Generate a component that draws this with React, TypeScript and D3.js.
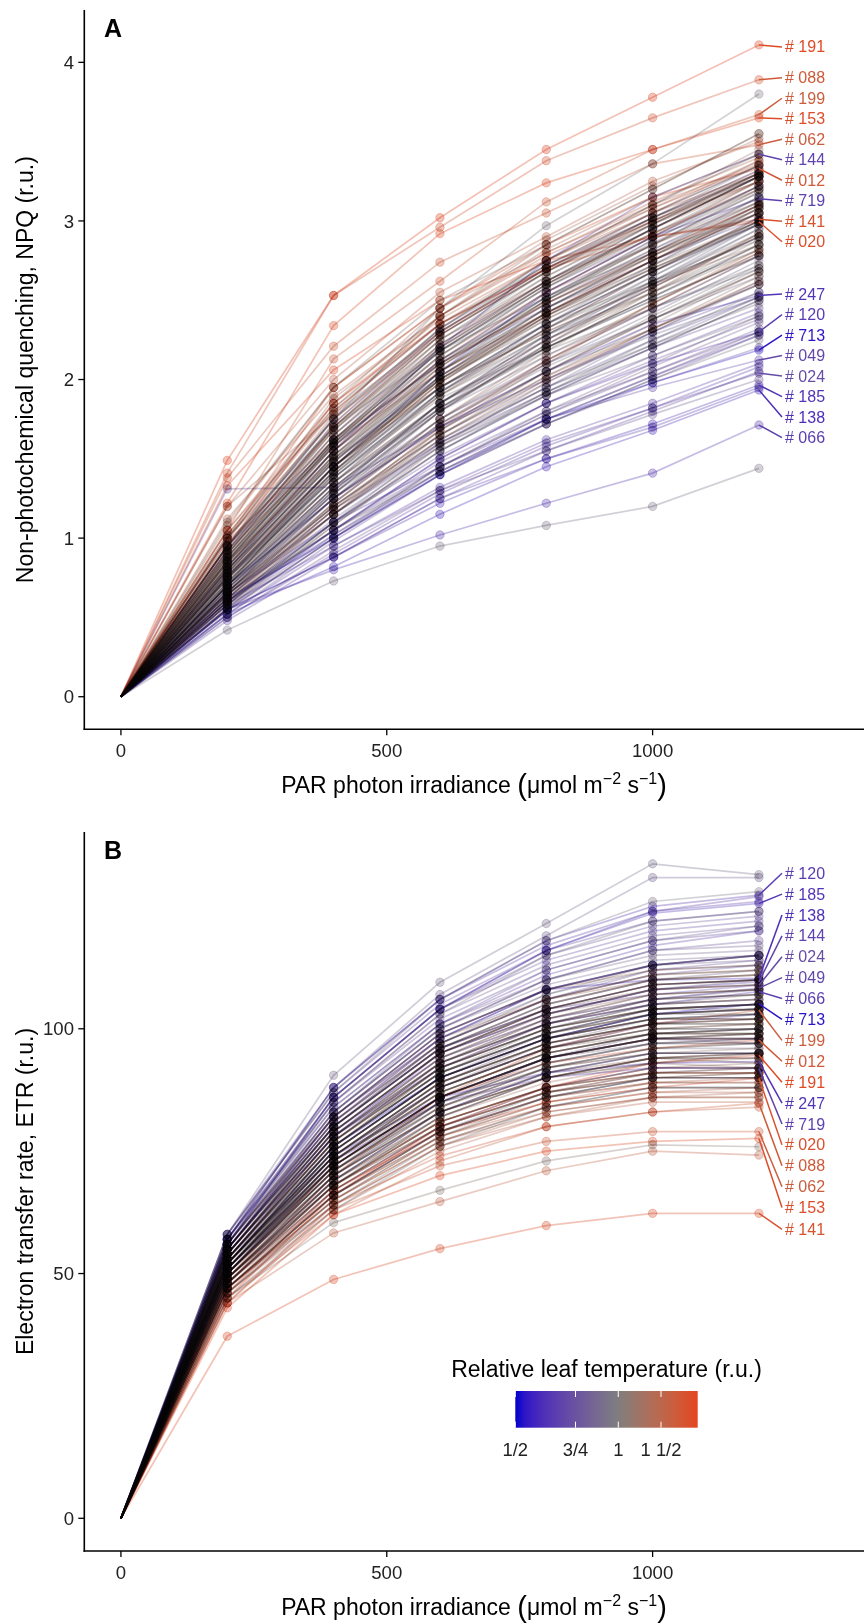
import React from 'react';
import * as d3 from 'd3';

// ---------------- DATA ----------------
const PAR = [0, 200, 400, 600, 800, 1000, 1200];

// labelled plants (extreme relative leaf temperature)
const labelIds = ['191', '088', '199', '153', '062', '012', '141', '020', '144', '719', '247', '120', '713', '049', '024', '185', '138', '066'];
const labelTemp = [1.65, 1.5, 1.45, 1.62, 1.45, 1.5, 1.58, 1.6, 0.68, 0.67, 0.62, 0.65, 0.53, 0.7, 0.72, 0.62, 0.6, 0.66];
const labelNPQ = [
  [0, 1.49, 2.53, 3.02, 3.45, 3.78, 4.11],
  [0, 1.41, 2.53, 2.96, 3.38, 3.65, 3.89],
  [0, 1.05, 2.13, 2.62, 3.12, 3.45, 3.67],
  [0, 1.22, 2.34, 2.92, 3.24, 3.45, 3.65],
  [0, 1.38, 2.21, 2.74, 3.05, 3.36, 3.48],
  [0, 1.0, 1.95, 2.45, 2.85, 3.15, 3.33],
  [0, 1.33, 2.06, 2.5, 2.75, 2.9, 3.01],
  [0, 0.95, 1.85, 2.35, 2.7, 2.9, 2.995],
  [0, 0.8, 1.55, 2.2, 2.75, 3.15, 3.42],
  [0, 0.75, 1.45, 2.05, 2.55, 2.9, 3.14],
  [0, 0.7, 1.25, 1.7, 2.05, 2.35, 2.53],
  [0, 0.6, 1.05, 1.5, 1.85, 2.1, 2.3],
  [0, 0.62, 1.0, 1.4, 1.75, 1.98, 2.186],
  [0, 0.65, 1.1, 1.45, 1.75, 1.95, 2.123],
  [0, 0.58, 0.95, 1.3, 1.6, 1.82, 2.04],
  [0, 0.55, 0.88, 1.22, 1.5, 1.72, 1.965],
  [0, 0.52, 0.82, 1.15, 1.45, 1.68, 1.934],
  [0, 0.55, 0.8, 1.02, 1.22, 1.41, 1.713],
];
const labelETR = [
  [0, 45, 66, 80, 88, 93, 94.6],
  [0, 44, 64, 74, 80, 83, 84.8],
  [0, 48, 70, 86, 96, 101, 103.8],
  [0, 43, 62, 70, 75, 77, 77.6],
  [0, 44, 63, 72, 77, 79, 79.0],
  [0, 49, 72, 86, 93, 96, 97.7],
  [0, 37.2, 48.8, 55.1, 59.8, 62.3, 62.3],
  [0, 46, 67, 79, 85, 88, 89.9],
  [0, 53, 78, 95, 103, 108, 109.6],
  [0, 50, 73, 85, 90, 92, 91.9],
  [0, 51, 74, 86, 91, 93, 93.3],
  [0, 57, 88, 106, 118, 125, 127.3],
  [0, 52, 76, 90, 98, 103, 105.1],
  [0, 54, 79, 94, 102, 106, 108.3],
  [0, 55, 80, 96, 104, 107, 108.9],
  [0, 56, 86, 104, 116, 123.6, 125.6],
  [0, 55, 82, 98, 108, 110, 110.3],
  [0, 54, 78, 92, 101, 105, 107.6],
];

// unlabelled plants
const bgTemp = [
  0.95, 1.05, 0.88, 1.12, 0.8, 1.0, 1.2, 0.92, 0.75, 1.08,
  1.3, 0.98, 0.85, 1.15, 1.02, 0.7, 1.25, 0.9, 1.1, 0.78,
  0.93, 0.97, 0.9, 0.86, 1.05, 1.35, 0.74, 1.28, 1.22, 1.18,
  0.82, 0.68, 0.95, 1.03, 1.12, 0.88, 1.0, 0.76, 1.4, 1.15,
  0.92, 1.07, 0.84, 1.26, 0.99, 0.72, 1.09, 0.94, 1.02, 0.81,
  1.32, 1.16, 0.89, 1.04, 0.96, 1.11, 0.79, 1.24, 0.91, 1.01,
  0.87, 1.19, 0.73, 1.06, 0.97, 1.13, 0.83, 1.27, 0.95, 1.0,
  0.77, 1.21, 0.93, 1.08, 0.86, 1.14, 0.69, 1.03, 0.9, 1.17,
  0.98, 1.1, 0.8, 1.23, 0.94, 1.05, 0.88, 1.31, 0.99, 1.12,
  0.75, 1.0, 0.92, 1.19, 0.84, 1.07,
  0.91, 1.02, 0.86, 1.14, 0.97, 1.2, 0.83, 1.08, 0.94, 1.25,
  0.89, 1.04, 0.78, 1.16, 1.1, 1.01, 1.28, 0.95, 1.05, 0.87,
  1.13, 0.92, 1.0, 0.81, 0.96, 1.18, 0.9, 1.07, 0.85, 1.22,
  0.93, 1.03, 0.88, 1.11, 0.99, 1.3, 0.84, 1.09, 0.97, 1.17,
  0.91, 1.06, 0.8, 1.15, 1.24, 1.02, 1.12, 0.94, 1.0, 0.88,
];
const bgNPQ = [
  [0, 0.62, 1.18, 1.62, 1.95, 2.22, 2.48], [0, 0.78, 1.45, 1.95, 2.3, 2.6, 2.9],
  [0, 0.7, 1.3, 1.8, 2.15, 2.45, 2.7], [0, 0.85, 1.6, 2.1, 2.48, 2.78, 3.05],
  [0, 0.58, 1.05, 1.48, 1.8, 2.05, 2.3], [0, 0.74, 1.38, 1.88, 2.2, 2.5, 2.78],
  [0, 0.92, 1.7, 2.25, 2.62, 2.92, 3.2], [0, 0.66, 1.25, 1.7, 2.05, 2.32, 2.6],
  [0, 0.55, 1.0, 1.4, 1.72, 1.98, 2.2], [0, 0.8, 1.52, 2.02, 2.4, 2.7, 2.98],
  [0, 1.02, 1.85, 2.38, 2.75, 3.05, 3.3], [0, 0.72, 1.35, 1.82, 2.18, 2.45, 2.72],
  [0, 0.64, 1.2, 1.65, 2.0, 2.28, 2.52], [0, 0.88, 1.62, 2.15, 2.55, 2.85, 3.12],
  [0, 0.76, 1.42, 1.92, 2.28, 2.55, 2.85], [0, 0.52, 0.95, 1.32, 1.62, 1.85, 2.1],
  [0, 0.95, 1.75, 2.28, 2.68, 2.98, 3.25], [0, 0.68, 1.28, 1.75, 2.1, 2.38, 2.65],
  [0, 0.82, 1.55, 2.05, 2.42, 2.72, 3.0], [0, 0.6, 1.1, 1.52, 1.85, 2.12, 2.38],
  [0, 0.42, 0.73, 0.95, 1.08, 1.2, 1.44], [0, 0.95, 1.75, 2.45, 2.97, 3.36, 3.8],
  [0, 0.6, 1.1, 1.6, 1.95, 2.3, 2.6], [0, 0.55, 1.0, 1.45, 1.8, 2.1, 2.4],
  [0, 1.1, 1.95, 2.5, 2.85, 3.2, 3.55], [0, 1.2, 2.0, 2.55, 2.9, 3.25, 3.5],
  [0, 1.31, 1.32, 1.7, 2.0, 2.3, 2.55], [0, 1.08, 1.95, 2.45, 2.8, 3.1, 3.36],
  [0, 1.2, 1.78, 2.3, 2.7, 3.0, 3.25], [0, 0.98, 1.88, 2.4, 2.82, 3.15, 3.42],
  [0, 0.5, 0.92, 1.3, 1.55, 1.78, 2.0], [0, 0.55, 0.88, 1.25, 1.5, 1.7, 1.95],
  [0, 0.62, 1.05, 1.42, 1.72, 2.0, 2.25], [0, 0.88, 1.62, 2.2, 2.62, 2.98, 3.3],
  [0, 0.95, 1.7, 2.3, 2.72, 3.05, 3.35], [0, 0.8, 1.48, 2.02, 2.42, 2.75, 3.05],
  [0, 0.7, 1.45, 2.05, 2.5, 2.88, 3.2], [0, 0.58, 1.1, 1.55, 1.9, 2.2, 2.45],
  [0, 1.05, 1.8, 2.35, 2.7, 3.0, 3.28], [0, 0.85, 1.5, 1.95, 2.3, 2.6, 2.85],
  [0, 0.65, 1.15, 1.58, 1.9, 2.15, 2.4], [0, 0.75, 1.4, 1.9, 2.25, 2.55, 2.82],
  [0, 0.62, 1.18, 1.6, 1.92, 2.2, 2.5], [0, 0.98, 1.62, 2.1, 2.48, 2.8, 3.1],
  [0, 0.68, 1.28, 1.8, 2.2, 2.52, 2.85], [0, 0.48, 0.88, 1.25, 1.55, 1.8, 2.05],
  [0, 0.9, 1.68, 2.28, 2.68, 3.02, 3.32], [0, 0.72, 1.4, 1.95, 2.35, 2.68, 2.98],
  [0, 0.85, 1.55, 2.1, 2.52, 2.85, 3.15], [0, 0.6, 1.05, 1.45, 1.78, 2.05, 2.32],
  [0, 1.12, 1.9, 2.4, 2.78, 3.08, 3.35], [0, 0.78, 1.45, 1.98, 2.38, 2.7, 3.0],
  [0, 0.66, 1.22, 1.72, 2.1, 2.42, 2.75], [0, 0.82, 1.58, 2.15, 2.58, 2.95, 3.28],
  [0, 0.58, 1.1, 1.55, 1.9, 2.2, 2.5], [0, 0.92, 1.72, 2.32, 2.75, 3.1, 3.45],
  [0, 0.52, 0.98, 1.4, 1.72, 2.0, 2.28], [0, 1.0, 1.8, 2.35, 2.75, 3.08, 3.38],
  [0, 0.75, 1.35, 1.85, 2.2, 2.5, 2.78], [0, 0.78, 1.5, 2.05, 2.45, 2.78, 3.08],
  [0, 0.64, 1.15, 1.62, 1.98, 2.3, 2.62], [0, 0.88, 1.65, 2.2, 2.6, 2.92, 3.22],
  [0, 0.6, 1.02, 1.42, 1.75, 2.02, 2.28], [0, 0.7, 1.35, 1.85, 2.22, 2.55, 2.88],
  [0, 0.85, 1.6, 2.18, 2.6, 2.95, 3.28], [0, 0.95, 1.78, 2.4, 2.85, 3.2, 3.55],
  [0, 0.56, 1.02, 1.45, 1.78, 2.08, 2.36], [0, 0.92, 1.58, 2.05, 2.42, 2.75, 3.05],
  [0, 0.66, 1.3, 1.85, 2.28, 2.62, 2.95], [0, 0.8, 1.48, 2.0, 2.38, 2.7, 3.0],
  [0, 0.62, 1.15, 1.6, 1.95, 2.25, 2.52], [0, 1.05, 1.85, 2.45, 2.88, 3.22, 3.52],
  [0, 0.7, 1.25, 1.72, 2.08, 2.38, 2.68], [0, 0.76, 1.45, 2.0, 2.42, 2.75, 3.05],
  [0, 0.68, 1.32, 1.85, 2.25, 2.58, 2.9], [0, 0.84, 1.55, 2.08, 2.48, 2.8, 3.1],
  [0, 0.5, 0.9, 1.28, 1.58, 1.82, 2.08], [0, 0.72, 1.4, 1.95, 2.35, 2.68, 3.0],
  [0, 0.77, 1.42, 1.95, 2.35, 2.68, 2.98], [0, 1.0, 1.75, 2.3, 2.7, 3.02, 3.3],
  [0, 0.64, 1.2, 1.68, 2.05, 2.38, 2.7], [0, 0.86, 1.62, 2.22, 2.65, 3.0, 3.3],
  [0, 0.54, 1.0, 1.42, 1.75, 2.02, 2.3], [0, 0.9, 1.7, 2.28, 2.7, 3.05, 3.38],
  [0, 0.74, 1.38, 1.9, 2.28, 2.6, 2.9], [0, 0.82, 1.52, 2.08, 2.5, 2.85, 3.18],
  [0, 0.6, 1.12, 1.58, 1.92, 2.22, 2.52], [0, 1.0, 1.82, 2.4, 2.8, 3.12, 3.4],
  [0, 0.76, 1.45, 2.0, 2.4, 2.72, 3.05], [0, 0.8, 1.48, 2.02, 2.42, 2.75, 3.08],
  [0, 0.56, 1.05, 1.5, 1.85, 2.15, 2.42], [0, 0.9, 1.65, 2.25, 2.68, 3.02, 3.35],
  [0, 0.7, 1.32, 1.82, 2.2, 2.52, 2.85], [0, 0.95, 1.68, 2.22, 2.62, 2.95, 3.25],
  [0, 0.66, 1.25, 1.75, 2.12, 2.45, 2.78], [0, 0.86, 1.6, 2.18, 2.6, 2.95, 3.28],
  [0, 0.7, 1.42, 2.02, 2.45, 2.8, 3.12], [0, 0.82, 1.5, 2.0, 2.35, 2.62, 2.88],
  [0, 0.76, 1.38, 1.92, 2.32, 2.68, 3.02], [0, 0.62, 1.22, 1.75, 2.18, 2.55, 2.92],
  [0, 1.0, 1.7, 2.18, 2.52, 2.8, 3.05], [0, 0.58, 1.15, 1.68, 2.1, 2.48, 2.82],
  [0, 0.95, 1.6, 2.1, 2.45, 2.75, 3.02], [0, 0.66, 1.2, 1.65, 2.02, 2.35, 2.68],
  [0, 0.88, 1.62, 2.2, 2.62, 2.98, 3.3], [0, 0.74, 1.42, 1.98, 2.4, 2.75, 3.08],
  [0, 0.68, 1.3, 1.85, 2.28, 2.65, 3.0], [0, 0.8, 1.45, 1.95, 2.32, 2.62, 2.92],
  [0, 0.92, 1.72, 2.3, 2.7, 3.02, 3.32], [0, 0.64, 1.18, 1.65, 2.02, 2.32, 2.6],
  [0, 0.78, 1.5, 2.08, 2.5, 2.85, 3.2], [0, 0.84, 1.58, 2.15, 2.58, 2.92, 3.25],
  [0, 0.6, 1.18, 1.7, 2.12, 2.48, 2.8], [0, 1.02, 1.82, 2.35, 2.72, 3.02, 3.28],
  [0, 0.7, 1.32, 1.82, 2.2, 2.52, 2.82], [0, 0.86, 1.58, 2.12, 2.52, 2.86, 3.18],
  [0, 0.66, 1.28, 1.8, 2.22, 2.58, 2.92], [0, 0.8, 1.52, 2.1, 2.52, 2.88, 3.22],
  [0, 0.58, 1.08, 1.55, 1.92, 2.25, 2.55], [0, 0.92, 1.65, 2.22, 2.62, 2.95, 3.28],
  [0, 0.75, 1.42, 1.98, 2.4, 2.75, 3.1], [0, 0.72, 1.35, 1.9, 2.32, 2.68, 3.02],
  [0, 0.64, 1.25, 1.8, 2.22, 2.6, 2.95], [0, 0.84, 1.52, 2.05, 2.45, 2.78, 3.1],
  [0, 0.96, 1.76, 2.32, 2.72, 3.05, 3.35], [0, 0.62, 1.15, 1.62, 2.0, 2.32, 2.62],
  [0, 0.74, 1.45, 2.02, 2.45, 2.8, 3.15], [0, 0.88, 1.58, 2.12, 2.5, 2.82, 3.12],
  [0, 0.7, 1.35, 1.92, 2.35, 2.72, 3.08], [0, 0.56, 1.08, 1.58, 1.98, 2.32, 2.65],
  [0, 0.94, 1.75, 2.32, 2.75, 3.1, 3.42], [0, 0.82, 1.55, 2.12, 2.55, 2.9, 3.25],
  [0, 0.78, 1.48, 2.05, 2.48, 2.82, 3.15], [0, 0.68, 1.25, 1.75, 2.15, 2.48, 2.8],
  [0, 0.86, 1.6, 2.18, 2.6, 2.95, 3.28], [0, 0.64, 1.22, 1.72, 2.12, 2.45, 2.78],
  [0, 0.9, 1.62, 2.18, 2.58, 2.9, 3.22], [0, 0.6, 1.15, 1.65, 2.05, 2.4, 2.72],
  [0, 0.82, 1.55, 2.12, 2.55, 2.9, 3.22], [0, 0.66, 1.2, 1.68, 2.05, 2.38, 2.68],
  [0, 0.76, 1.45, 2.0, 2.42, 2.78, 3.1], [0, 0.9, 1.68, 2.25, 2.65, 2.98, 3.28],
  [0, 0.7, 1.32, 1.85, 2.25, 2.58, 2.9], [0, 0.94, 1.7, 2.28, 2.68, 3.0, 3.3],
  [0, 0.72, 1.38, 1.92, 2.32, 2.65, 2.98], [0, 0.66, 1.28, 1.82, 2.25, 2.62, 2.98],
];
const bgETR = [
  [0, 52, 75, 90, 98, 103, 104], [0, 50, 71, 85, 93, 97, 98],
  [0, 54, 78, 93, 101, 106, 108], [0, 49, 70, 83, 90, 94, 95],
  [0, 55, 80, 96, 104, 109, 110], [0, 51, 73, 88, 96, 100, 101],
  [0, 48, 68, 81, 88, 91, 92], [0, 53, 77, 92, 100, 105, 106],
  [0, 56, 82, 99, 108, 113, 115], [0, 50, 72, 86, 94, 98, 99],
  [0, 47, 66, 78, 84, 87, 87], [0, 52, 74, 89, 97, 101, 102],
  [0, 54, 79, 95, 103, 108, 109], [0, 49, 69, 82, 89, 93, 94],
  [0, 51, 72, 87, 95, 99, 100], [0, 57, 84, 101, 111, 117, 120],
  [0, 47, 67, 79, 86, 89, 89], [0, 53, 76, 91, 99, 104, 105],
  [0, 50, 71, 85, 92, 96, 97], [0, 55, 81, 97, 106, 111, 113],
  [0, 56, 85, 103, 115, 122, 124], [0, 50, 70, 83, 90, 93, 95],
  [0, 58, 90.5, 109.5, 121.5, 133.7, 131.5], [0, 57, 88, 107, 119, 130.9, 130.9],
  [0, 45, 60.4, 67, 73, 76.3, 75.9], [0, 44, 58.3, 64.7, 71, 75, 74.2],
  [0, 53, 74, 88, 96, 101, 103], [0, 46, 63, 75, 82, 86, 86],
  [0, 47, 65, 77, 83, 86, 86], [0, 48, 66, 78, 85, 88, 88],
  [0, 55, 83, 101, 112, 118, 121], [0, 56, 86, 104, 116, 124, 126],
  [0, 58, 87, 106, 118, 126, 128], [0, 52, 72, 85, 92, 95, 95],
  [0, 51, 71, 84, 91, 94, 93], [0, 54, 78, 93, 101, 105, 106],
  [0, 53, 76, 91, 100, 105, 107], [0, 57, 85, 102, 112, 118, 120],
  [0, 45, 62, 73, 80, 83, 84], [0, 49, 69, 81, 88, 91, 91],
  [0, 53, 78, 94, 103, 108, 110], [0, 52, 74, 88, 96, 99, 99],
  [0, 56, 84, 101, 110, 116, 117], [0, 47, 64, 76, 83, 86, 87],
  [0, 51, 75, 90, 98, 102, 102], [0, 55, 81, 98, 108, 113, 115],
  [0, 50, 70, 83, 90, 93, 92], [0, 52, 76, 91, 99, 104, 105],
  [0, 49, 68, 80, 87, 90, 91], [0, 54, 80, 97, 106, 112, 114],
  [0, 46, 64, 76, 82, 85, 85], [0, 50, 72, 86, 94, 98, 98],
  [0, 55, 80, 96, 105, 110, 112], [0, 51, 73, 87, 95, 99, 100],
  [0, 54, 80, 97, 107, 113, 115], [0, 49, 69, 82, 90, 94, 95],
  [0, 57, 86, 104, 115, 121, 123], [0, 48, 67, 80, 87, 90, 91],
  [0, 52, 75, 90, 98, 103, 104], [0, 50, 71, 85, 93, 97, 97],
  [0, 56, 83, 100, 109, 114, 115], [0, 48, 68, 81, 88, 92, 92],
  [0, 58, 87, 105, 116, 122, 124], [0, 53, 77, 92, 100, 104, 105],
  [0, 51, 72, 86, 94, 98, 99], [0, 49, 68, 81, 88, 92, 93],
  [0, 55, 82, 99, 108, 113, 114], [0, 47, 65, 78, 85, 89, 90],
  [0, 53, 77, 93, 102, 107, 108], [0, 52, 74, 89, 97, 101, 101],
  [0, 56, 83, 100, 110, 116, 118], [0, 47, 66, 79, 86, 89, 89],
  [0, 54, 79, 95, 104, 109, 110], [0, 51, 73, 87, 95, 99, 100],
  [0, 55, 81, 98, 107, 112, 113], [0, 50, 70, 83, 90, 94, 94],
  [0, 58, 88, 106, 117, 124, 127], [0, 52, 76, 91, 99, 103, 104],
  [0, 53, 77, 93, 101, 106, 107], [0, 49, 68, 80, 87, 90, 90],
  [0, 55, 80, 96, 105, 110, 111], [0, 50, 71, 84, 92, 95, 96],
  [0, 57, 85, 103, 113, 119, 121], [0, 48, 67, 80, 87, 91, 91],
  [0, 52, 75, 90, 98, 102, 103], [0, 51, 73, 87, 95, 99, 99],
  [0, 56, 83, 100, 110, 115, 116], [0, 47, 65, 77, 84, 87, 88],
  [0, 51, 74, 89, 97, 101, 102], [0, 50, 72, 86, 94, 98, 98],
  [0, 57, 86, 104, 114, 120, 122], [0, 52, 74, 88, 96, 100, 100],
  [0, 54, 79, 95, 104, 109, 110], [0, 48, 68, 81, 88, 91, 91],
  [0, 55, 82, 99, 108, 113, 115], [0, 51, 72, 86, 94, 98, 99],
  [0, 50, 73, 88, 97, 102, 103], [0, 52, 76, 91, 99, 103, 103],
  [0, 48, 69, 83, 91, 95, 95], [0, 54, 78, 93, 101, 105, 106],
  [0, 46, 65, 78, 86, 90, 90], [0, 53, 77, 93, 102, 107, 108],
  [0, 50, 72, 86, 94, 98, 97], [0, 55, 80, 96, 104, 108, 109],
  [0, 47, 66, 79, 87, 91, 92], [0, 52, 75, 90, 98, 102, 102],
  [0, 51, 74, 89, 98, 103, 104], [0, 53, 77, 92, 100, 104, 104],
  [0, 48, 67, 80, 88, 92, 92], [0, 56, 82, 98, 106, 110, 111],
  [0, 51, 73, 87, 95, 99, 99], [0, 49, 70, 84, 92, 96, 97],
  [0, 54, 79, 95, 104, 109, 110], [0, 46, 64, 77, 84, 88, 88],
  [0, 53, 78, 94, 102, 106, 107], [0, 50, 71, 85, 93, 97, 98],
  [0, 52, 76, 92, 101, 106, 107], [0, 49, 70, 84, 92, 96, 96],
  [0, 55, 81, 97, 106, 111, 112], [0, 51, 72, 86, 94, 98, 98],
  [0, 48, 68, 82, 90, 94, 95], [0, 53, 77, 92, 100, 104, 105],
  [0, 52, 75, 90, 98, 102, 102], [0, 51, 74, 89, 97, 101, 101],
  [0, 47, 66, 79, 86, 90, 90], [0, 55, 81, 97, 106, 111, 112],
  [0, 51, 73, 88, 96, 100, 100], [0, 52, 75, 90, 98, 102, 103],
  [0, 49, 70, 85, 94, 99, 100], [0, 54, 80, 96, 105, 110, 111],
  [0, 45, 63, 76, 84, 88, 88], [0, 52, 74, 89, 97, 101, 102],
  [0, 50, 71, 86, 94, 98, 98], [0, 54, 79, 95, 103, 107, 108],
  [0, 48, 68, 82, 90, 94, 94], [0, 53, 78, 94, 103, 108, 109],
  [0, 50, 72, 86, 94, 97, 97], [0, 54, 79, 95, 104, 109, 110],
  [0, 49, 69, 83, 91, 95, 95], [0, 56, 82, 99, 108, 112, 113],
  [0, 51, 73, 88, 96, 100, 101], [0, 47, 66, 79, 86, 90, 90],
  [0, 53, 76, 91, 99, 103, 104], [0, 49, 69, 83, 91, 95, 95],
  [0, 52, 76, 92, 100, 104, 105], [0, 52, 75, 90, 99, 104, 105],
];

const npqTicks = [0, 1, 2, 3, 4];
const etrTicks = [0, 50, 100];
const parTicks = [0, 500, 1000];
const legendBreaks = [0.5, 0.75, 1, 4 / 3];
const legendLabels = ['1/2', '3/4', '1', '1 1/2'];

// ---------------- SCALES ----------------
const FONT = "'Liberation Sans', Arial, Helvetica, sans-serif";
const W = 864;
const H = 1624;
const tempMin = 0.5;
const tempMax = 1.707;

const colorScale = d3
  .scaleLinear<string>()
  .domain([Math.log(tempMin), 0, Math.log(tempMax)])
  .range(['#0000CD', '#7F7F7F', '#E4441F'])
  .interpolate(d3.interpolateLab)
  .clamp(true);
const col = (t: number) => colorScale(Math.log(t));

const xScale = d3.scaleLinear().domain([-68.9, 1397.6]).range([84.3, 864]);
const yNPQ = d3.scaleLinear().domain([-0.2055, 4.33]).range([729.3, 10]);
const yETR = d3.scaleLinear().domain([-6.68, 140.2]).range([1551, 832]);

function spread(ys: number[], gap: number): number[] {
  const order = ys.map((_, i) => i).sort((a, b) => ys[a] - ys[b]);
  let clusters = order.map((i) => ({ idx: [i], mean: ys[i] }));
  const top = (c: { idx: number[]; mean: number }) => c.mean - ((c.idx.length - 1) * gap) / 2;
  let changed = true;
  while (changed) {
    changed = false;
    for (let k = 0; k < clusters.length - 1; k++) {
      const a = clusters[k];
      const b = clusters[k + 1];
      const aBottom = top(a) + (a.idx.length - 1) * gap;
      if (top(b) - aBottom < gap) {
        const idx = a.idx.concat(b.idx);
        const mean = d3.mean(idx, (i) => ys[i]) as number;
        clusters.splice(k, 2, { idx, mean });
        changed = true;
        break;
      }
    }
  }
  const out: number[] = new Array(ys.length);
  clusters.forEach((c) => c.idx.forEach((i, j) => (out[i] = top(c) + j * gap)));
  return out;
}

const LINE_OP = 0.34;
const PT_OP = 0.33;

function Series({ vals, temp, y }: { vals: number[]; temp: number; y: d3.ScaleLinear<number, number> }) {
  const c = col(temp);
  const line = d3
    .line<number>()
    .x((_, i) => xScale(PAR[i]))
    .y((v) => y(v));
  return (
    <g>
      <path d={line(vals) || ''} fill="none" stroke={c} strokeOpacity={LINE_OP} strokeWidth={1.7} style={{ mixBlendMode: 'multiply' }} />
      {vals.map((v, i) =>
        i === 0 ? null : (
          <circle
            key={i}
            cx={xScale(PAR[i])}
            cy={y(v)}
            r={4.2}
            fill={c}
            fillOpacity={PT_OP}
            stroke={c}
            strokeOpacity={PT_OP}
            strokeWidth={1}
            style={{ mixBlendMode: 'multiply' }}
          />
        )
      )}
    </g>
  );
}

function XTitle({ y }: { y: number }) {
  return (
    <text x={474} y={y} fontSize={23} textAnchor="middle" fontFamily={FONT} fill="#000">
      {'PAR photon irradiance '}
      <tspan fontSize={29} dy={2}>(</tspan>
      <tspan dy={-2}>{'\u03BCmol m'}</tspan>
      <tspan fontSize={16} dy={-9}>{'\u22122'}</tspan>
      <tspan dy={9}>{' s'}</tspan>
      <tspan fontSize={16} dy={-9}>{'\u22121'}</tspan>
      <tspan fontSize={29} dy={11}>)</tspan>
    </text>
  );
}

function Panel({
  y,
  ticks,
  bgVals,
  lbVals,
  yTitle,
  letter,
  gap,
  nudge,
}: {
  y: d3.ScaleLinear<number, number>;
  ticks: number[];
  bgVals: number[][];
  lbVals: number[][];
  yTitle: string;
  letter: string;
  gap: number;
  nudge: number;
}) {
  const [r0, r1] = y.range();
  const bottom = r0;
  const topY = r1;
  const x1200 = xScale(PAR[PAR.length - 1]);
  const endYs = lbVals.map((v) => y(v[v.length - 1]));
  const labYs = spread(endYs, gap).map((v) => v + nudge);
  return (
    <g>
      {bgVals.map((v, i) => (
        <Series key={'b' + i} vals={v} temp={bgTemp[i]} y={y} />
      ))}
      {lbVals.map((v, i) => (
        <Series key={'l' + i} vals={v} temp={labelTemp[i]} y={y} />
      ))}
      {lbVals.map((v, i) => (
        <g key={'t' + i}>
          <line x1={x1200} y1={endYs[i]} x2={782} y2={labYs[i]} stroke={col(labelTemp[i])} strokeWidth={1.5} />
          <text x={785} y={labYs[i]} dy="0.35em" fontSize={16} fontFamily={FONT} fill={col(labelTemp[i])}>
            {'# ' + labelIds[i]}
          </text>
        </g>
      ))}
      <line x1={84.3} x2={84.3} y1={topY} y2={bottom + 0.8} stroke="#000" strokeWidth={1.6} />
      <line x1={83.5} x2={864} y1={bottom} y2={bottom} stroke="#000" strokeWidth={1.6} />
      {ticks.map((t) => (
        <g key={'yt' + t}>
          <line x1={78.3} x2={84.3} y1={y(t)} y2={y(t)} stroke="#000" strokeWidth={1.3} />
          <text x={74} y={y(t)} dy="0.36em" textAnchor="end" fontSize={18.6} fontFamily={FONT} fill="#222">
            {t}
          </text>
        </g>
      ))}
      {parTicks.map((t) => (
        <g key={'xt' + t}>
          <line x1={xScale(t)} x2={xScale(t)} y1={bottom} y2={bottom + 6} stroke="#000" strokeWidth={1.3} />
          <text x={xScale(t)} y={bottom + 27.5} textAnchor="middle" fontSize={18.6} fontFamily={FONT} fill="#222">
            {t}
          </text>
        </g>
      ))}
      <text
        transform={`translate(33,${(topY + bottom) / 2}) rotate(-90)`}
        textAnchor="middle"
        fontSize={23}
        fontFamily={FONT}
        fill="#000"
      >
        {yTitle}
      </text>
      <XTitle y={bottom + 64} />
      <text x={104} y={topY + 27.3} fontSize={25} fontWeight="bold" fontFamily={FONT} fill="#000">
        {letter}
      </text>
    </g>
  );
}

function Legend() {
  const lx = d3.scaleLinear().domain([Math.log(tempMin), Math.log(tempMax)]).range([515.3, 697.7]);
  const stops = d3.range(0, 1.0001, 0.05);
  const by0 = 1391;
  const by1 = 1427.7;
  return (
    <g>
      <defs>
        <linearGradient id="tempGrad" x1="0" x2="1" y1="0" y2="0">
          {stops.map((s) => (
            <stop key={s} offset={s} stopColor={colorScale(Math.log(tempMin) + s * (Math.log(tempMax) - Math.log(tempMin)))} />
          ))}
        </linearGradient>
      </defs>
      <text x={606.5} y={1376.7} textAnchor="middle" fontSize={23} fontFamily={FONT} fill="#000">
        Relative leaf temperature (r.u.)
      </text>
      <rect x={515.3} y={by0} width={697.7 - 515.3} height={by1 - by0} fill="url(#tempGrad)" />
      {legendBreaks.map((b, i) => (
        <g key={b}>
          <line x1={lx(Math.log(b))} x2={lx(Math.log(b))} y1={by0} y2={by0 + 6} stroke="#fff" strokeWidth={1} />
          <line x1={lx(Math.log(b))} x2={lx(Math.log(b))} y1={by1 - 6} y2={by1} stroke="#fff" strokeWidth={1} />
          <text x={lx(Math.log(b))} y={1455.6} textAnchor="middle" fontSize={18.4} fontFamily={FONT} fill="#222">
            {legendLabels[i]}
          </text>
        </g>
      ))}
    </g>
  );
}

export default function App() {
  return (
    <div style={{ position: 'absolute', left: 0, top: 0, width: W, height: H, background: '#fff' }}>
      <svg width={W} height={H} viewBox={`0 0 ${W} ${H}`} style={{ display: 'block', background: '#fff', isolation: 'isolate' }}>
        <rect x={0} y={0} width={W} height={H} fill="#fff" />
        <Panel
          y={yNPQ}
          ticks={npqTicks}
          bgVals={bgNPQ}
          lbVals={labelNPQ}
          yTitle="Non-photochemical quenching, NPQ (r.u.)"
          letter="A"
          gap={20.5}
          nudge={2}
        />
        <Panel
          y={yETR}
          ticks={etrTicks}
          bgVals={bgETR}
          lbVals={labelETR}
          yTitle="Electron transfer rate, ETR (r.u.)"
          letter="B"
          gap={20.9}
          nudge={16}
        />
        <Legend />
      </svg>
    </div>
  );
}
